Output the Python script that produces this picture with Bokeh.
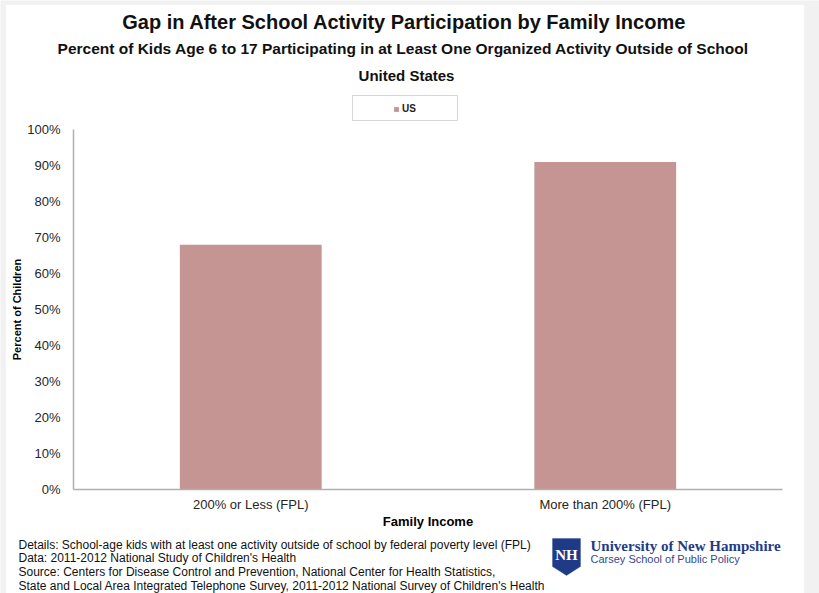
from bokeh.plotting import figure
from bokeh.models import (Range1d, Label, Legend, LegendItem, BoxAnnotation,
                          PolyAnnotation, PrintfTickFormatter, FixedTicker)
from bokeh.embed import file_html
from bokeh.resources import INLINE

# ---- data ----
categories = ["200% or Less (FPL)", "More than 200% (FPL)"]
us_values = [68, 91]
y_ticks = [0, 10, 20, 30, 40, 50, 60, 70, 80, 90, 100]

title = "Gap in After School Activity Participation by Family Income"
subtitle = "Percent of Kids Age 6 to 17 Participating in at Least  One Organized Activity Outside of School"
region = "United States"
series_name = "US"
x_label = "Family Income"
y_label = "Percent of Children"
notes = [
    "Details: School-age kids with at least one activity outside of school by federal poverty level  (FPL)",
    "Data: 2011-2012 National  Study of Children's Health",
    "Source: Centers for Disease Control and Prevention, National  Center for Health Statistics,",
    "State and Local Area Integrated  Telephone Survey, 2011-2012 National  Survey of Children's Health",
]
org_name = "University of New Hampshire"
org_sub = "Carsey School of Public Policy"

# ---- layout (pixels) ----
W, H = 819, 593
AX_L, AX_R, AX_T, AX_B = 73, 782, 129, 489   # plot area edges
n = len(categories)
ux = (AX_R - AX_L) / n          # px per category unit
uy = (AX_B - AX_T) / 100.0      # px per percent

def xd(px):
    return (px - AX_L) / ux

def yd(py):
    return (AX_B - py) / uy

x_pos = [i + 0.5 for i in range(n)]

p = figure(width=W, height=H, x_range=Range1d(xd(0), xd(W)), y_range=Range1d(yd(H), yd(0)),
           output_backend="svg", toolbar_location=None,
           min_border_left=0, min_border_right=0, min_border_top=0, min_border_bottom=0)
p.outline_line_color = None
p.background_fill_color = "#f1f1f1"
p.border_fill_color = "#f1f1f1"
p.xgrid.grid_line_color = None
p.ygrid.grid_line_color = None

# white panel
p.add_layout(BoxAnnotation(left=xd(5), right=xd(804), top=yd(4), bottom=yd(H + 5),
                           fill_color="white", fill_alpha=1, line_color="#e6e6e6",
                           line_width=1, level="underlay"))

bar_color = "#c49593"
bars = p.vbar(x=x_pos, top=us_values, width=0.4, fill_color=bar_color, line_color=None)

axis_col = "#b0b0b0"
for ax in (p.xaxis[0], p.yaxis[0]):
    ax.axis_line_color = axis_col
    ax.axis_line_width = 1.5
    ax.major_tick_line_color = None
    ax.minor_tick_line_color = None
    ax.major_tick_out = 0
    ax.major_tick_in = 0
    ax.minor_tick_out = 0
    ax.major_label_text_font = "Liberation Sans"
    ax.major_label_text_font_size = "13px"
    ax.major_label_text_color = "#262626"
    ax.axis_label_text_font = "Liberation Sans"
    ax.axis_label_text_font_style = "bold"
    ax.axis_label_text_color = "#000000"

p.yaxis.fixed_location = 0
p.yaxis.bounds = (0, 100)
p.yaxis.ticker = FixedTicker(ticks=y_ticks)
p.yaxis.formatter = PrintfTickFormatter(format="%d%%")
p.yaxis.axis_label = y_label
p.yaxis.axis_label_text_font_size = "11px"
p.yaxis.major_label_standoff = 13
p.yaxis.axis_label_standoff = 1

p.xaxis.fixed_location = 0
p.xaxis.bounds = (0, n)
p.xaxis.ticker = FixedTicker(ticks=x_pos)
p.xaxis.major_label_overrides = {x: c for x, c in zip(x_pos, categories)}
p.xaxis.axis_label = x_label
p.xaxis.axis_label_text_font_size = "13px"
p.xaxis.major_label_standoff = 7
p.xaxis.axis_label_standoff = -1

# ---- titles ----
def label(x, y, text, size, style="bold", align="center", font="Liberation Sans", color="#111111"):
    p.add_layout(Label(x=xd(x), y=yd(y), text=text, text_align=align, text_baseline="middle",
                       text_font=font, text_font_style=style, text_font_size=size,
                       text_color=color))

label(404, 21, title, "20px")
label(405, 48, subtitle, "15.5px")
label(406, 75, region, "15px")

# ---- legend ----
p.add_layout(BoxAnnotation(left=xd(352), right=xd(457), top=yd(95), bottom=yd(120),
                           fill_color="white", fill_alpha=1, line_color="#7a7a7a", line_width=1))
legend = Legend(items=[LegendItem(label=series_name, renderers=[bars])],
                location=(393, H - 114),
                padding=0, margin=0, spacing=0, border_line_color=None,
                background_fill_alpha=0, glyph_width=6, glyph_height=6, label_standoff=3,
                label_height=6, label_width=10, label_text_font="Liberation Sans",
                label_text_font_size="10px", label_text_font_style="bold",
                label_text_color="#222222")
p.add_layout(legend)

# ---- footnotes ----
for i, line in enumerate(notes):
    label(18, 544 + 13.7 * i, line, "12px", style="normal", align="left")

# ---- logo ----
navy = "#1f3b87"
p.add_layout(PolyAnnotation(xs=[xd(552), xd(580), xd(580), xd(566), xd(552)],
                            ys=[yd(538), yd(538), yd(566), yd(575), yd(566)],
                            fill_color=navy, fill_alpha=1, line_color=navy))
label(566, 554, "NH", "15px", font="Liberation Sans Narrow", color="white")
label(590, 545, org_name, "15px", align="left", font="Liberation Serif", color=navy)
label(590, 558, org_sub, "11px", style="normal", align="left", color="#34498f")

open("out.html", "w").write(file_html(p, INLINE))
